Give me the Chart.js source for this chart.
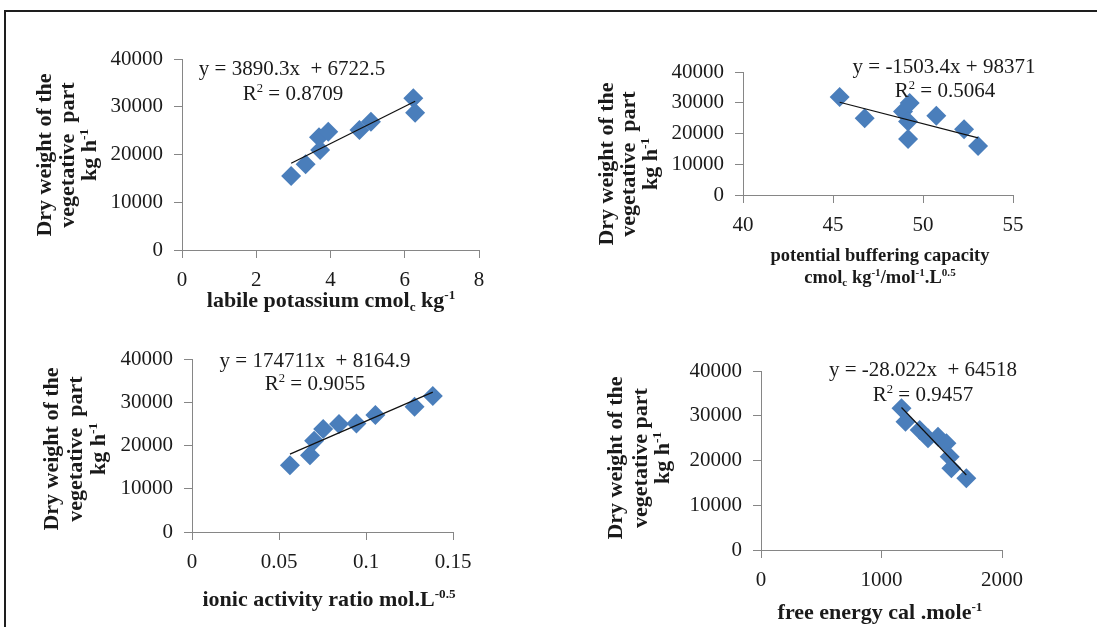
<!DOCTYPE html>
<html><head><meta charset="utf-8">
<script src="https://cdn.jsdelivr.net/npm/chart.js@4.4.1/dist/chart.umd.min.js"></script>
<style>
html,body{margin:0;padding:0;background:#fff;width:1097px;height:627px;overflow:hidden;position:relative}
#frame{position:absolute;left:4px;top:10px;width:1200px;height:700px;border-left:2px solid #1e1e1e;border-top:2px solid #1e1e1e}
canvas{position:absolute}
</style></head><body>
<div id="frame"></div>
<canvas id="c1" width="548" height="318" style="left:0px;top:0px"></canvas>
<canvas id="c2" width="549" height="318" style="left:548px;top:0px"></canvas>
<canvas id="c3" width="548" height="309" style="left:0px;top:318px"></canvas>
<canvas id="c4" width="549" height="309" style="left:548px;top:318px"></canvas>
<script>
// ---- data ----
const labileK     = [2.94, 3.33, 3.72, 3.69, 3.94, 4.78, 5.09, 6.23, 6.28];
const dryWeight1  = [15500, 17950, 20940, 23600, 24780, 25130, 26870, 31770, 28760];
const bufferCap   = [45.37, 46.76, 48.89, 49.26, 49.17, 49.17, 50.74, 52.28, 53.06];
const dryWeight2  = [31850, 25000, 27150, 29900, 23900, 18250, 25750, 21400, 15970];
const activityAR  = [0.0563, 0.0678, 0.0702, 0.0754, 0.0845, 0.0945, 0.1054, 0.1279, 0.1384];
const dryWeight3  = [15450, 17760, 21080, 23790, 24950, 25100, 27030, 28960, 31430];
const freeEnergy  = [1166, 1199, 1317, 1386, 1469, 1539, 1566, 1580, 1704];
const dryWeight4  = [31660, 28670, 26820, 24960, 25320, 23840, 20850, 18260, 16020];
const slopes      = [3890.3, -1503.4, 174711, -28.022];
const intercepts  = [6722.5, 98371, 8164.9, 64518];
const equations   = ['y = 3890.3x  + 6722.5', 'y = -1503.4x + 98371', 'y = 174711x  + 8164.9', 'y = -28.022x  + 64518'];
const r2Values    = ['0.8709', '0.5064', '0.9055', '0.9457'];
const yTickLabels = ['0', '10000', '20000', '30000', '40000'];
const xTicks1     = ['0', '2', '4', '6', '8'];
const xTicks2     = ['40', '45', '50', '55'];
const xTicks3     = ['0', '0.05', '0.1', '0.15'];
const xTicks4     = ['0', '1000', '2000'];

const SERIF = '"Liberation Serif", "Times New Roman", serif';
const BLUE = '#4a7ebb';
const AXIS = '#868686';
const TXT = '#1a1a1a';

// rich text: segs = [[text, mode]] mode 0 normal, 1 sup, -1 sub
function richWidth(ctx, segs, size, bold) {
  let w = 0;
  for (const [t, m] of segs) {
    const s = m ? size * 0.6 : size;
    ctx.font = (bold ? 'bold ' : '') + s + 'px ' + SERIF;
    w += ctx.measureText(t).width;
  }
  return w;
}
function drawRich(ctx, segs, cx, cy, size, bold) {
  const w = richWidth(ctx, segs, size, bold);
  let x = cx - w / 2;
  const base = cy + size * 0.33;
  ctx.textAlign = 'left';
  ctx.textBaseline = 'alphabetic';
  ctx.fillStyle = TXT;
  for (const [t, m] of segs) {
    const s = m ? size * 0.6 : size;
    ctx.font = (bold ? 'bold ' : '') + s + 'px ' + SERIF;
    const dy = m === 1 ? -size * 0.38 : (m === -1 ? size * 0.18 : 0);
    ctx.fillText(t, x, base + dy);
    x += ctx.measureText(t).width;
  }
}

function yTitleLines(second) {
  return [[['Dry weight of the', 0]], [[second, 0]], [['kg h', 0], ['-1', 1]]];
}

function makePanel(p) {
  const canvas = document.getElementById(p.id);
  const cw = canvas.width, ch = canvas.height;
  const minX = Math.min(...p.xs), maxX = Math.max(...p.xs);
  const pts = p.xs.map((x, i) => ({x: x, y: p.ys[i]}));
  const trend = [minX, maxX].map(x => ({x: x, y: slopes[p.k] * x + intercepts[p.k]}));
  const textPlugin = {
    id: 'texts' + p.id,
    afterDraw(chart) {
      const ctx = chart.ctx;
      ctx.save();
      drawRich(ctx, [[equations[p.k], 0]], p.eq[0] - p.ox, p.eq[1] - p.oy, 21, false);
      drawRich(ctx, [['R', 0], ['2', 1], [' = ' + r2Values[p.k], 0]], p.r2[0] - p.ox, p.r2[1] - p.oy, 21, false);
      p.xTitle.forEach((line, i) => {
        drawRich(ctx, line, p.xt[i][0] - p.ox, p.xt[i][1] - p.oy, p.xts, true);
      });
      p.yTitle.forEach((line, i) => {
        ctx.save();
        ctx.translate(p.yt[i] - p.ox, p.ytc - p.oy);
        ctx.rotate(-Math.PI / 2);
        drawRich(ctx, line, 0, 0, 22, true);
        ctx.restore();
      });
      ctx.restore();
    }
  };
  const tickFont = {family: SERIF, size: 21};
  new Chart(canvas, {
    type: 'scatter',
    data: {
      datasets: [
        {type: 'line', data: trend, borderColor: '#111', borderWidth: 1.2, pointRadius: 0, fill: false, order: 0},
        {data: pts, pointStyle: 'rectRot', pointRadius: 10, backgroundColor: BLUE, borderColor: BLUE, borderWidth: 0, order: 1}
      ]
    },
    options: {
      responsive: false, animation: false, devicePixelRatio: 1,
      layout: {padding: {left: 0, bottom: 0, top: p.area.t - p.oy, right: p.ox + cw - p.area.r}},
      plugins: {legend: {display: false}, tooltip: {enabled: false}},
      scales: {
        x: {
          type: 'linear', min: p.xmin, max: p.xmax,
          ticks: {stepSize: p.xstep, autoSkip: false, maxRotation: 0, padding: 10, color: TXT, font: tickFont,
            callback: v => { const f = p.xLabels.find(l => Math.abs(+l - v) < 1e-9); return f === undefined ? '' : f; }},
          grid: {display: true, drawOnChartArea: false, drawTicks: true, tickLength: 8, color: AXIS, tickColor: AXIS},
          border: {display: true, color: AXIS, width: 1},
          afterFit: s => { s.height = ch - (p.area.b - p.oy); }
        },
        y: {
          type: 'linear', min: 0, max: 40000,
          ticks: {stepSize: 10000, autoSkip: false, padding: 11, color: TXT, font: tickFont,
            callback: v => { const f = yTickLabels.find(l => Math.abs(+l - v) < 1e-6); return f === undefined ? '' : f; }},
          grid: {display: true, drawOnChartArea: false, drawTicks: true, tickLength: 8, color: AXIS, tickColor: AXIS},
          border: {display: true, color: AXIS, width: 1},
          afterFit: s => { s.width = p.area.l - p.ox; }
        }
      }
    },
    plugins: [textPlugin]
  });
}

makePanel({
  id: 'c1', k: 0, ox: 0, oy: 0, xs: labileK, ys: dryWeight1,
  area: {l: 182, t: 59, r: 479, b: 250},
  xmin: 0, xmax: 8, xstep: 2, xLabels: xTicks1,
  eq: [292, 68], r2: [293, 93],
  xTitle: [[['labile potassium cmol', 0], ['c', -1], [' kg', 0], ['-1', 1]]], xt: [[331, 300]], xts: 22,
  yTitle: yTitleLines('vegetative  part'), yt: [44, 67, 89], ytc: 155
});
makePanel({
  id: 'c2', k: 1, ox: 548, oy: 0, xs: bufferCap, ys: dryWeight2,
  area: {l: 743, t: 72, r: 1013, b: 195},
  xmin: 40, xmax: 55, xstep: 5, xLabels: xTicks2,
  eq: [944, 66], r2: [945, 90],
  xTitle: [[['potential buffering capacity', 0]], [['cmol', 0], ['c', -1], [' kg', 0], ['-1', 1], ['/mol', 0], ['-1', 1], ['.L', 0], ['0.5', 1]]],
  xt: [[880, 255], [880, 277]], xts: 18.5,
  yTitle: yTitleLines('vegetative  part'), yt: [606, 628, 650], ytc: 164
});
makePanel({
  id: 'c3', k: 2, ox: 0, oy: 318, xs: activityAR, ys: dryWeight3,
  area: {l: 192, t: 359, r: 453, b: 532},
  xmin: 0, xmax: 0.15, xstep: 0.05, xLabels: xTicks3,
  eq: [315, 360], r2: [315, 383],
  xTitle: [[['ionic activity ratio mol.L', 0], ['-0.5', 1]]], xt: [[329, 599]], xts: 22,
  yTitle: yTitleLines('vegetative  part'), yt: [51, 75, 98], ytc: 449
});
makePanel({
  id: 'c4', k: 3, ox: 548, oy: 318, xs: freeEnergy, ys: dryWeight4,
  area: {l: 761, t: 371, r: 1002, b: 550},
  xmin: 0, xmax: 2000, xstep: 1000, xLabels: xTicks4,
  eq: [923, 369], r2: [923, 394],
  xTitle: [[['free energy cal .mole', 0], ['-1', 1]]], xt: [[880, 612]], xts: 22,
  yTitle: yTitleLines('vegetative part'), yt: [615, 640, 662], ytc: 458
});
</script>
</body></html>
